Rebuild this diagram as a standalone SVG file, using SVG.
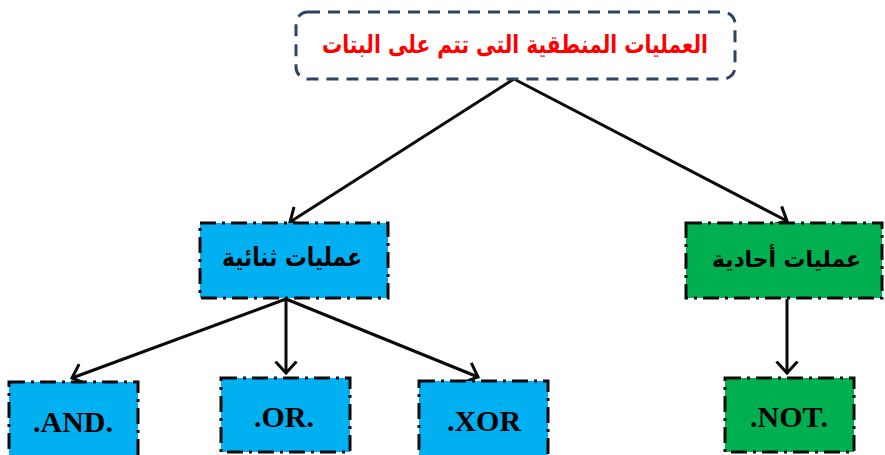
<svg xmlns="http://www.w3.org/2000/svg" width="885" height="455" viewBox="0 0 885 455">
<style>
.box{stroke:#0a0a0a;stroke-width:3;stroke-dasharray:16 6 3 6}
.blue{fill:#00b0f0}
.green{fill:#00b050}
.ar{font-family:"DejaVu Sans",sans-serif;font-weight:bold;text-anchor:start}
.en{font-family:"Liberation Serif",serif;font-weight:bold;font-size:30px;text-anchor:middle;fill:#000}
.conn{stroke:#0a0a0a;stroke-width:3;fill:none;marker-end:url(#arr)}
</style>
<defs>
<marker id="arr" viewBox="0 0 15 24" refX="12.5" refY="12" markerWidth="15" markerHeight="24" orient="auto" markerUnits="userSpaceOnUse">
<path d="M1,1.5 L12.5,12 L1,22.5" fill="none" stroke="#0a0a0a" stroke-width="3"/>
</marker>
</defs>
<g id="connectors">
<line class="conn" x1="514" y1="79" x2="290" y2="222"/>
<line class="conn" x1="514" y1="79" x2="787" y2="221"/>
<line class="conn" x1="286" y1="299" x2="72" y2="378"/>
<line class="conn" x1="286" y1="299" x2="286" y2="373"/>
<line class="conn" x1="286" y1="299" x2="478" y2="377"/>
<line class="conn" x1="787" y1="299" x2="787" y2="373"/>
</g>
<g id="root">
<rect x="296" y="12" width="439" height="67" rx="12" fill="#fff" stroke="#2e4463" stroke-width="3" stroke-dasharray="12 8"/>
<text class="ar" x="322" y="53" font-size="25" fill="#ff0000" textLength="386" lengthAdjust="spacingAndGlyphs">العمليات المنطقية التى تتم على البتات</text>
</g>
<g id="binary">
<rect class="box blue" x="200" y="223" width="188" height="75"/>
<text class="ar" x="222" y="266" font-size="26" fill="#000" textLength="140" lengthAdjust="spacingAndGlyphs">عمليات ثنائية</text>
</g>
<g id="unary">
<rect class="box green" x="686" y="223" width="196" height="75"/>
<text class="ar" x="712" y="267" font-size="23" fill="#000" textLength="149" lengthAdjust="spacingAndGlyphs">عمليات أحادية</text>
</g>
<g id="and">
<rect class="box blue" x="9" y="382" width="129" height="75"/>
<text class="en" x="73" y="432">.AND.</text>
</g>
<g id="or">
<rect class="box blue" x="221" y="378" width="129" height="74"/>
<text class="en" x="284" y="427">.OR.</text>
</g>
<g id="xor">
<rect class="box blue" x="419" y="381" width="129" height="76"/>
<text class="en" x="484" y="431">.XOR</text>
</g>
<g id="not">
<rect class="box green" x="725" y="378" width="129" height="74"/>
<text class="en" x="789" y="427">.NOT.</text>
</g>
</svg>
